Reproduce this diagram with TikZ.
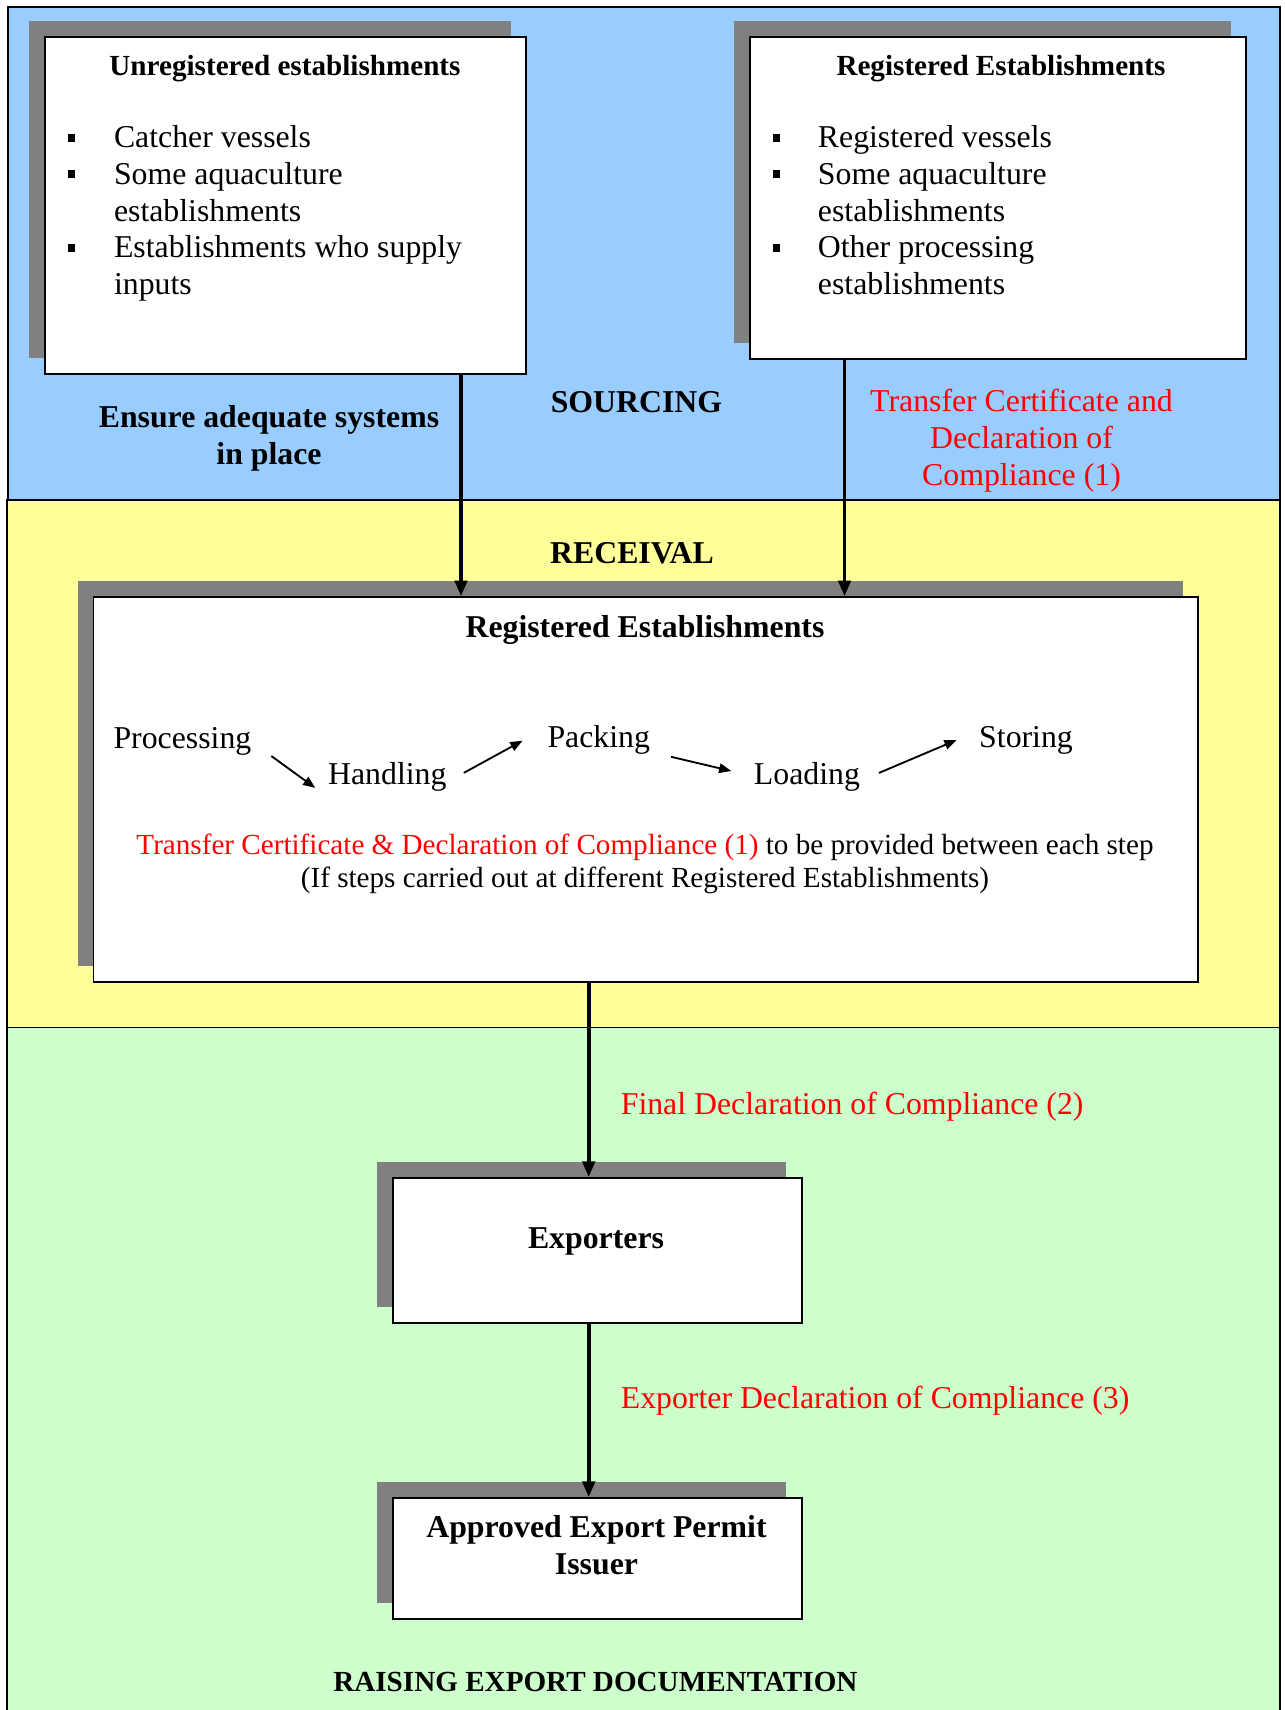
\documentclass[tikz,border=0pt]{standalone}
\usepackage{fontspec}
\setmainfont{Liberation Serif}
\usetikzlibrary{arrows.meta,shadows}

\definecolor{skyband}{HTML}{99CCFF}
\definecolor{lemonband}{HTML}{FFFF99}
\definecolor{mintband}{HTML}{CCFFCC}
\definecolor{shadowgray}{HTML}{808080}
\definecolor{certred}{HTML}{FF0000}

\tikzset{
  band/.style={draw=black, line width=0.6pt},
  stagebox/.style={draw=black, fill=white, line width=0.75pt, inner sep=0pt, anchor=north west,
    general shadow={fill=shadowgray, draw=none, shadow xshift=-5.85pt, shadow yshift=6.04pt}},
  bulletsq/.style={fill=black, inner sep=0pt, minimum width=2.8pt, minimum height=3pt},
  headsm/.style={font=\fontsize{11}{12.34}\selectfont\bfseries, inner sep=0pt, anchor=base},
  headbig/.style={font=\fontsize{12}{13.83}\selectfont\bfseries, inner sep=0pt, anchor=base},
  listtext/.style={font=\fontsize{12}{13.83}\selectfont, inner sep=0pt, align=left, anchor=base west},
  steptext/.style={font=\fontsize{12}{13.83}\selectfont, inner sep=0pt, anchor=base west},
  redbody/.style={font=\fontsize{12}{13.83}\selectfont, text=certred, inner sep=0pt, anchor=base},
  note/.style={font=\fontsize{11}{12.34}\selectfont, inner sep=0pt, anchor=base},
  flowarrow/.style={line width=1.5pt, -{Triangle[length=6pt,width=4.6pt]}},
  steparrow/.style={line width=0.7pt, -{Triangle[length=4.6pt,width=3.6pt]}}
}

\begin{document}
\begin{tikzpicture}[x=0.3774pt, y=-0.3774pt]
	%%%%% START %%%%%
	\useasboundingbox (0,0) rectangle (1284,1710);
	
	% stage bands
	\filldraw[band, fill=skyband] (8,7) rectangle (1280,500);
	\filldraw[band, fill=lemonband] (7,500) rectangle (1280,1027.5);
	\filldraw[band, fill=mintband] (7,1027.5) rectangle (1280,1714);
	
	% sourcing (multi-line nodes sit on their last baseline)
	\node[stagebox, minimum width=181.6pt, minimum height=127.1pt] (unreg) at (44,36) {};
	\node[stagebox, minimum width=187.4pt, minimum height=121.6pt] (regsrc) at (748.8,36) {};
	
	\node[headsm] (unregtitle) at (285,75) {Unregistered establishments};
	\foreach \yy/\nm in {137.7/1, 174.3/2, 247.7/3}
		\node[bulletsq] (ubul\nm) at (71.4,\yy) {};
	\node[listtext] (unreglist) at (113.5,294.3) {Catcher vessels\\Some aquaculture\\establishments\\Establishments who supply\\inputs};
	
	\node[headsm] (regtitle) at (1001,75) {Registered Establishments};
	\foreach \yy/\nm in {137.7/1, 174.3/2, 247.7/3}
		\node[bulletsq] (rbul\nm) at (776.3,\yy) {};
	\node[listtext] (reglist) at (817.4,294.3) {Registered vessels\\Some aquaculture\\establishments\\Other processing\\establishments};
	
	\node[headbig, align=center] (ensure) at (269,464.3) {Ensure adequate systems\\in place};
	\node[headbig] (sourcing) at (636.5,412.3) {SOURCING};
	\node[redbody, align=center] (tcdoc) at (1021.5,485) {Transfer Certificate and\\Declaration of\\Compliance (1)};
	
	% receival
	\node[headbig] (receival) at (632,563) {RECEIVAL};
	\node[stagebox, minimum width=416.9pt, minimum height=145.1pt] (regest) at (92.5,596.4) {};
	\node[headbig] (regesttitle) at (645,637) {Registered Establishments};
	
	\node[steptext] (proc) at (113,748) {Processing};
	\node[steptext] (hand) at (327.6,784.3) {Handling};
	\node[steptext] (pack) at (547,747) {Packing};
	\node[steptext] (load) at (753.4,784) {Loading};
	\node[steptext] (stor) at (978.7,747) {Storing};
	
	\draw[steparrow] ([shift={(19.5,8)}]proc.base east) -- ([shift={(-12.3,3.6)}]hand.base west);
	\draw[steparrow] ([shift={(16.8,-11.4)}]hand.base east) -- ([shift={(-24.5,-6.3)}]pack.base west);
	\draw[steparrow] ([shift={(20.6,9.8)}]pack.base east) -- ([shift={(-22.1,-13)}]load.base west);
	\draw[steparrow] ([shift={(18.6,-11.1)}]load.base east) -- ([shift={(-22.1,-7)}]stor.base west);
	
	\node[note, align=center] (stepnote) at (645,887) {\textcolor{certred}{Transfer Certificate \& Declaration of Compliance (1)} to be provided between each step\\(If steps carried out at different Registered Establishments)};
	
	% raising export documentation
	\node[stagebox, minimum width=154.3pt, minimum height=54.5pt] (exporters) at (391.8,1177.2) {};
	\node[headbig] (exptitle) at (596,1248.5) {Exporters};
	\node[stagebox, minimum width=154.3pt, minimum height=45.5pt] (permit) at (391.8,1497.3) {};
	\node[headbig, align=center] (permittitle) at (596.5,1574) {Approved Export Permit\\Issuer};
	
	\node[redbody, anchor=base west] (finaldoc) at (620.3,1114.8) {Final Declaration of Compliance (2)};
	\node[redbody, anchor=base west] (expdoc) at (620.3,1408.4) {Exporter Declaration of Compliance (3)};
	\node[headsm] (raising) at (595.4,1691.7) {RAISING EXPORT DOCUMENTATION};
	
	% flow arrows
	\coordinate (srcL) at (461,0);
	\coordinate (srcR) at (844.5,0);
	\coordinate (mainx) at (588.7,0);
	\draw[flowarrow] (unreg.south -| srcL) -- (regest.north -| srcL);
	\draw[flowarrow] (regsrc.south -| srcR) -- (regest.north -| srcR);
	\draw[flowarrow] (regest.south -| mainx) -- (exporters.north -| mainx);
	\draw[flowarrow] (exporters.south -| mainx) -- (permit.north -| mainx);
	%%%%% END %%%%%
\end{tikzpicture}
\end{document}
